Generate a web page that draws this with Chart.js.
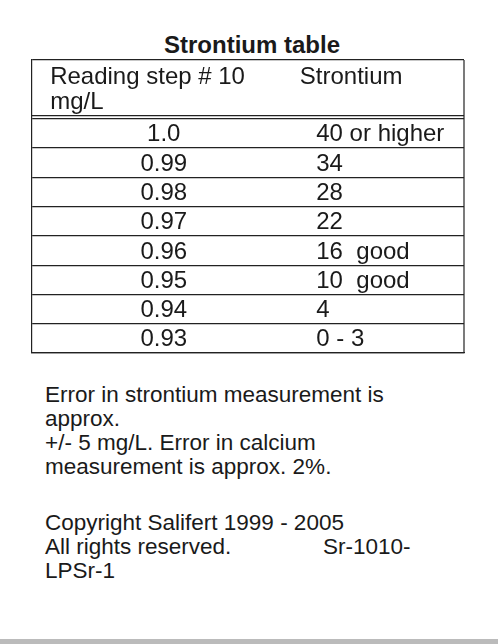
<!DOCTYPE html>
<html><head><meta charset="utf-8">
<script src="https://cdn.jsdelivr.net/npm/chart.js@4"></script>
<style>
body{margin:0;width:498px;height:644px;background:#fff;font-family:"Liberation Sans",Arial,sans-serif;color:#1a1a1a;position:relative;overflow:hidden}
#title{position:absolute;left:0;width:504px;top:31px;text-align:center;font-weight:bold;font-size:24px}
#wrap{position:absolute;left:22px;top:50px;width:452px;height:313px}
.note{position:absolute;left:45px;font-size:22.5px;line-height:24px;white-space:nowrap}
#foot{position:absolute;left:0;top:639px;width:498px;height:5px;background:#bbb}
</style></head><body>
<div id="title">Strontium table</div>
<div id="wrap"><canvas id="c"></canvas></div>
<div class="note" style="top:383px">Error in strontium measurement is<br>approx.<br>+/- 5 mg/L. Error in calcium<br>measurement is approx. 2%.</div>
<div class="note" style="top:511px">Copyright Salifert 1999 - 2005<br>All rights reserved.<span style="position:absolute;left:278px">Sr-1010-</span><br>LPSr-1</div>
<div id="foot"></div>
<script>
const headers = ["Reading step # 10", "mg/L", "Strontium"];
const readings = ["1.0", "0.99", "0.98", "0.97", "0.96", "0.95", "0.94", "0.93"];
const strontium = ["40 or higher", "34", "28", "22", "16  good", "10  good", "4", "0 - 3"];

const tableText = {
  id: 'tableText',
  afterDraw(chart) {
    const {ctx, scales: {x, y}} = chart;
    ctx.save();
    ctx.fillStyle = '#1a1a1a';
    ctx.font = '24px "Liberation Sans", Arial, sans-serif';
    ctx.textBaseline = 'middle';
    ctx.strokeStyle = '#222'; ctx.lineWidth = 1.2;
    ctx.beginPath();
    ctx.moveTo(x.left, y.getPixelForValue(2) - 3);
    ctx.lineTo(x.right, y.getPixelForValue(2) - 3);
    ctx.stroke();
    ctx.textAlign = 'left';
    ctx.fillText(headers[0], x.getPixelForValue(0.042), y.getPixelForValue(0.6));
    ctx.fillText(headers[1], x.getPixelForValue(0.042), y.getPixelForValue(1.45));
    ctx.fillText(headers[2], x.getPixelForValue(0.62), y.getPixelForValue(0.6));
    readings.forEach((r, i) => {
      const py = y.getPixelForValue(i + 2.55);
      ctx.textAlign = 'center';
      ctx.fillText(r, x.getPixelForValue(0.305), py);
      ctx.textAlign = 'left';
      ctx.fillText(strontium[i], x.getPixelForValue(0.658), py);
    });
    ctx.restore();
  }
};

new Chart(document.getElementById('c'), {
  type: 'scatter',
  data: { datasets: [{ data: readings.map((r, i) => ({x: 0.5, y: i + 2.5})), pointRadius: 0 }] },
  options: {
    responsive: true, maintainAspectRatio: false, animation: false,
    layout: { padding: 10 },
    plugins: { legend: { display: false }, tooltip: { enabled: false } },
    scales: {
      x: { type: 'linear', min: 0, max: 1, ticks: { display: false },
           grid: { display: false, drawTicks: false },
           border: { display: true, color: '#222', width: 1.2 } },
      y: { type: 'linear', reverse: true, min: 0, max: 10,
           ticks: { display: false, stepSize: 1 },
           grid: { drawTicks: false, lineWidth: 1.2,
                   color: c => c.tick.value === 1 ? 'rgba(0,0,0,0)' : '#222' },
           border: { display: true, color: '#222', width: 1.2 } }
    }
  },
  plugins: [tableText, {
    id: 'rightBorder',
    afterDraw(chart) {
      const {ctx, chartArea: a} = chart;
      ctx.save(); ctx.strokeStyle = '#222'; ctx.lineWidth = 1.2;
      ctx.beginPath(); ctx.moveTo(a.right, a.top); ctx.lineTo(a.right, a.bottom); ctx.stroke();
      ctx.restore();
    }
  }]
});
</script>
</body></html>
